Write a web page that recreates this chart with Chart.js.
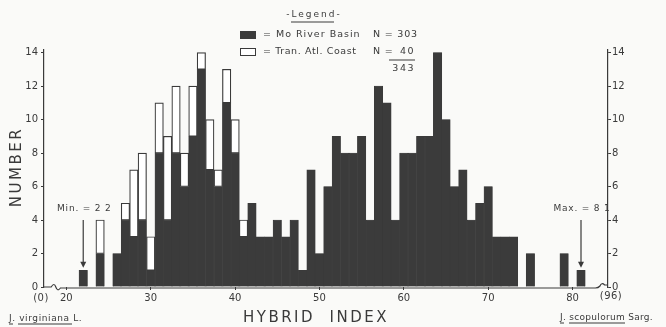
<!DOCTYPE html>
<html>
<head>
<meta charset="utf-8">
<script src="https://cdn.jsdelivr.net/npm/chart.js@4.4.0/dist/chart.umd.min.js"></script>
<style>
    html, body { margin: 0; padding: 0; background: #fafaf8; }
    #wrap { width: 666px; height: 327px; position: relative; }
</style>
</head>
<body>
<div id="wrap"><canvas id="hybridChart" width="666" height="327"></canvas></div>
<script>
// hybrid index classes that hold at least one tree
const hybridIndex = [22, 24, 26, 27, 28, 29, 30, 31, 32, 33, 34, 35, 36, 37, 38, 39, 40,
    41, 42, 43, 44, 45, 46, 47, 48, 49, 50, 51, 52, 53, 54, 55, 56, 57, 58, 59, 60,
    61, 62, 63, 64, 65, 66, 67, 68, 69, 70, 71, 72, 73, 75, 79, 81];
// Mo River Basin (N = 303)
const moRiverBasin = [1, 2, 2, 4, 3, 4, 1, 8, 4, 8, 6, 9, 13, 7, 6, 11, 8,
    3, 5, 3, 3, 4, 3, 4, 1, 7, 2, 6, 9, 8, 8, 9, 4, 12, 11, 4, 8,
    8, 9, 9, 14, 10, 6, 7, 4, 5, 6, 3, 3, 3, 2, 2, 1];
// Tran. Atl. Coast (N = 40)
const tranAtlCoast = [0, 2, 0, 1, 4, 4, 2, 3, 5, 4, 2, 3, 1, 3, 1, 2, 2,
    1, 0, 0, 0, 0, 0, 0, 0, 0, 0, 0, 0, 0, 0, 0, 0, 0, 0, 0, 0,
    0, 0, 0, 0, 0, 0, 0, 0, 0, 0, 0, 0, 0, 0, 0, 0];
const xTicks = [20, 30, 40, 50, 60, 70, 80];
const yTicks = [0, 2, 4, 6, 8, 10, 12, 14];

const PAGE_BG = '#fafaf8';
const INK = '#3a3a3a';
const BAR = '#3b3b3b';
const FONT = '"DejaVu Sans", sans-serif';

function spacedText(ctx, text, x, y, spacing, align) {
    ctx.letterSpacing = spacing + 'px';
    ctx.textAlign = align || 'left';
    ctx.fillText(text, x, y);
    ctx.letterSpacing = '0px';
}

const decorations = {
    id: 'decorations',
    beforeDraw(chart) {
        const ctx = chart.ctx;
        ctx.save();
        ctx.fillStyle = PAGE_BG;
        ctx.fillRect(0, 0, chart.width, chart.height);
        ctx.restore();
    },
    afterDraw(chart) {
        const ctx = chart.ctx;
        const xs = chart.scales.x, ys = chart.scales.y;
        const area = chart.chartArea;
        const y0 = ys.getPixelForValue(0);
        ctx.save();
        ctx.strokeStyle = INK;
        ctx.fillStyle = INK;
        ctx.lineWidth = 1.2;

        // broken base line
        const b1 = xs.getPixelForValue(18.2), b2 = xs.getPixelForValue(19.3);
        const b3 = xs.getPixelForValue(82.7), b4 = xs.getPixelForValue(83.8);
        ctx.beginPath();
        ctx.moveTo(area.left, y0);
        ctx.lineTo(b1, y0);
        ctx.quadraticCurveTo(b1 + 3, y0 - 5, (b1 + b2) / 2, y0);
        ctx.quadraticCurveTo(b2 - 3, y0 + 5, b2, y0 + 1);
        ctx.lineTo(b3, y0 + 1);
        ctx.quadraticCurveTo(b3 + 3, y0 + 1, (b3 + b4) / 2, y0 - 1);
        ctx.quadraticCurveTo(b4 - 3, y0 - 5, b4, y0 - 2);
        ctx.lineTo(area.right, y0 - 2);
        ctx.stroke();

        // min / max arrows
        ctx.font = '9px ' + FONT;
        ctx.textBaseline = 'middle';
        [[22, 1.15, 'Min. = 2 2'], [81, 1.15, 'Max. = 8 1']].forEach(([v, tip, label]) => {
            const px = xs.getPixelForValue(v);
            const top = ys.getPixelForValue(4.0), end = ys.getPixelForValue(tip);
            ctx.beginPath();
            ctx.moveTo(px, top);
            ctx.lineTo(px, end - 5);
            ctx.stroke();
            ctx.beginPath();
            ctx.moveTo(px - 3, end - 6);
            ctx.lineTo(px + 3, end - 6);
            ctx.lineTo(px, end);
            ctx.closePath();
            ctx.fill();
            spacedText(ctx, label, px + 1, ys.getPixelForValue(4.65), 0.8, 'center');
        });

        // end labels of the index
        ctx.font = '10px ' + FONT;
        spacedText(ctx, '(0)', 41, 298, 0.5, 'center');
        spacedText(ctx, '(96)', 611, 296, 0.5, 'center');
        ctx.font = '9px ' + FONT;
        spacedText(ctx, 'J. virginiana L.', 9, 319, 0.6, 'left');
        spacedText(ctx, 'J. scopulorum Sarg.', 560, 318, 0.3, 'left');
        ctx.lineWidth = 1;
        ctx.beginPath();
        ctx.moveTo(9, 324); ctx.lineTo(13, 324);
        ctx.moveTo(18, 324); ctx.lineTo(72, 324);
        ctx.moveTo(560, 323); ctx.lineTo(564, 323);
        ctx.moveTo(569, 323); ctx.lineTo(625, 323);
        ctx.stroke();

        // axis titles
        ctx.font = '15px ' + FONT;
        spacedText(ctx, 'HYBRID  INDEX', 316, 318, 2.5, 'center');
        ctx.save();
        ctx.translate(17, 167);
        ctx.rotate(-Math.PI / 2);
        spacedText(ctx, 'NUMBER', 0, 0, 2.5, 'center');
        ctx.restore();

        // legend block
        ctx.font = '9px ' + FONT;
        spacedText(ctx, '-Legend-', 314, 15, 2, 'center');
        ctx.beginPath();
        ctx.moveTo(291, 22); ctx.lineTo(334, 22);
        ctx.stroke();
        ctx.fillStyle = BAR;
        ctx.fillRect(240, 31, 16, 8);
        ctx.fillStyle = '#ffffff';
        ctx.fillRect(240, 48, 16, 8);
        ctx.strokeRect(240.5, 48.5, 15, 7);
        ctx.fillStyle = INK;
        ctx.font = '9.5px ' + FONT;
        spacedText(ctx, '= Mo River Basin', 263, 35, 1, 'left');
        spacedText(ctx, '= Tran. Atl. Coast', 263, 52, 0.6, 'left');
        spacedText(ctx, 'N = 303', 373, 35, 0.8, 'left');
        spacedText(ctx, 'N =', 373, 52, 0.8, 'left');
        spacedText(ctx, '40', 415, 52, 1.5, 'right');
        ctx.beginPath();
        ctx.moveTo(389, 60); ctx.lineTo(415, 60);
        ctx.stroke();
        spacedText(ctx, '343', 415, 69, 1.5, 'right');
        ctx.restore();
    }
};

function toPoints(values) {
    return hybridIndex.map((x, i) => ({ x: x, y: values[i] > 0 ? values[i] : null }));
}

const yAxisBase = {
    min: 0,
    max: 14.15,
    afterBuildTicks: (scale) => { scale.ticks = yTicks.map(v => ({ value: v })); },
    border: { display: true, color: INK, width: 1.2 },
    grid: { drawOnChartArea: false, color: INK, tickLength: 3 },
    ticks: { color: INK, font: { family: FONT, size: 10 }, padding: 3 }
};

const ctx = document.getElementById('hybridChart').getContext('2d');
window.hybridChart = new Chart(ctx, {
    type: 'bar',
    data: {
        datasets: [{
            label: 'Mo River Basin',
            data: toPoints(moRiverBasin),
            backgroundColor: BAR,
            borderColor: BAR,
            borderWidth: 0.5,
            barPercentage: 1,
            categoryPercentage: 1
        }, {
            label: 'Tran. Atl. Coast',
            data: toPoints(tranAtlCoast),
            backgroundColor: '#ffffff',
            borderColor: INK,
            borderWidth: 1.2,
            borderSkipped: false,
            barPercentage: 1,
            categoryPercentage: 1
        }]
    },
    options: {
        responsive: false,
        animation: false,
        devicePixelRatio: 1,
        layout: { padding: { top: 50, left: 0, right: 0, bottom: 0 } },
        plugins: {
            legend: { display: false },
            tooltip: { enabled: false }
        },
        scales: {
            x: {
                type: 'linear',
                stacked: true,
                offset: false,
                min: 17.35,
                max: 84.2,
                afterBuildTicks: (scale) => { scale.ticks = xTicks.map(v => ({ value: v })); },
                afterFit: (scale) => { scale.height = 40; },
                border: { display: false },
                grid: { drawOnChartArea: false, offset: false, color: INK, tickLength: 3 },
                ticks: { color: INK, font: { family: FONT, size: 10 }, padding: 2, maxRotation: 0 }
            },
            y: Object.assign({}, yAxisBase, {
                stacked: true,
                position: 'left',
                afterFit: (scale) => { scale.width = 44; }
            }),
            y2: Object.assign({}, yAxisBase, {
                position: 'right',
                afterFit: (scale) => { scale.width = 58; },
                ticks: { color: INK, font: { family: FONT, size: 10 }, padding: 1 }
            })
        }
    },
    plugins: [decorations]
});
</script>
</body>
</html>
